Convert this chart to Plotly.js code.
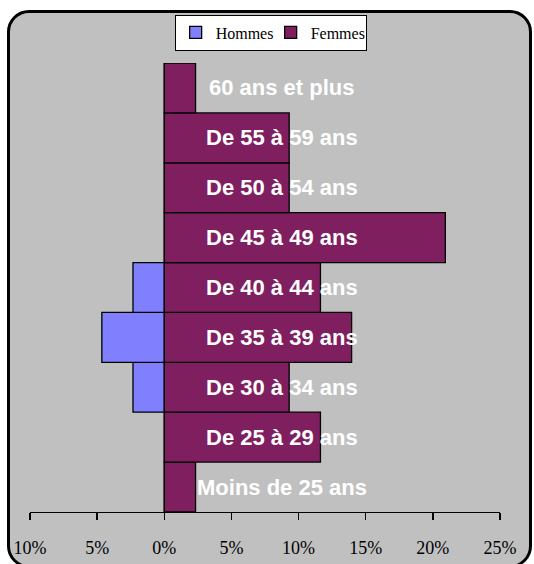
<!DOCTYPE html>
<html>
<head>
<meta charset="utf-8">
<script src="https://cdn.plot.ly/plotly-3.0.1.min.js"></script>
<style>
  html, body { margin: 0; padding: 0; background: #ffffff; }
  #frame { position: absolute; left: 7px; top: 10px; width: 525px; height: 558px;
           border: 3px solid #000; border-radius: 22px; background: #c0c0c0; box-sizing: border-box; }
  #chart { position: absolute; left: 0; top: 0; width: 534px; height: 564px; }
</style>
</head>
<body>
<div id="frame"></div>
<div id="chart"></div>
<script>
// Age groups, bottom to top
const categories = ["Moins de 25 ans", "De 25 à 29 ans", "De 30 à 34 ans", "De 35 à 39 ans",
                    "De 40 à 44 ans", "De 45 à 49 ans", "De 50 à 54 ans", "De 55 à 59 ans", "60 ans et plus"];
// Share of total headcount (%)
const hommes = [0, 0, 2.33, 4.65, 2.33, 0, 0, 0, 0];
const femmes = [2.33, 11.63, 9.30, 13.95, 11.63, 20.93, 9.30, 9.30, 2.33];
const tickValues = [-10, -5, 0, 5, 10, 15, 20, 25];
const tickLabels = ["10%", "5%", "0%", "5%", "10%", "15%", "20%", "25%"];
const chartTitle = "Pyramide des âges";

const traces = [
  { type: "bar", orientation: "h", name: "Hommes", y: categories, x: hommes.map(v => -v),
    marker: { color: "#8080ff", line: { color: "#000", width: 1.3 } }, hoverinfo: "skip" },
  { type: "bar", orientation: "h", name: "Femmes", y: categories, x: femmes,
    marker: { color: "#7f1f5f", line: { color: "#000", width: 1.3 } }, hoverinfo: "skip" }
];

const annotations = categories.map(c => ({
  x: 8.75, xref: "x", y: c, yref: "y", text: c, showarrow: false,
  xanchor: "center", yanchor: "middle",
  font: { family: "Liberation Sans, Arial, sans-serif", size: 22, color: "#ffffff", weight: "bold" }
}));
annotations.push({
  x: 0.34, xref: "paper", y: 1.149, yref: "paper", yanchor: "bottom", xanchor: "center",
  text: "<b>" + chartTitle + "</b>", showarrow: false,
  font: { family: "Liberation Sans, Arial, sans-serif", size: 24, color: "#000" }
});

const layout = {
  width: 534, height: 564,
  margin: { l: 30, r: 34, t: 63, b: 52 },
  paper_bgcolor: "rgba(0,0,0,0)", plot_bgcolor: "rgba(0,0,0,0)",
  barmode: "relative", bargap: 0,
  showlegend: true,
  legend: { orientation: "h", x: 0.512, xanchor: "center", y: 1.108, yanchor: "top",
            bgcolor: "#ffffff", bordercolor: "#000", borderwidth: 1,
            itemwidth: 30, entrywidth: 50,
            font: { family: "Liberation Serif, Times New Roman, serif", size: 16, color: "#000" },
            traceorder: "normal" },
  xaxis: { range: [-10, 25], tickvals: tickValues, ticktext: tickLabels,
           showgrid: false, zeroline: false, showline: true, linecolor: "#000", linewidth: 1.3,
           ticks: "outside", ticklen: 7, tickcolor: "#000", tickwidth: 1.3,
           ticklabelstandoff: 12,
           tickfont: { family: "Liberation Serif, Times New Roman, serif", size: 18, color: "#000" },
           fixedrange: true },
  yaxis: { type: "category", categoryorder: "array", categoryarray: categories,
           range: [-0.5, 8.5], showticklabels: false, showgrid: false, zeroline: false,
           showline: false, ticks: "", fixedrange: true },
  annotations: annotations
};

Plotly.newPlot("chart", traces, layout, { displayModeBar: false, staticPlot: true });
</script>
</body>
</html>
